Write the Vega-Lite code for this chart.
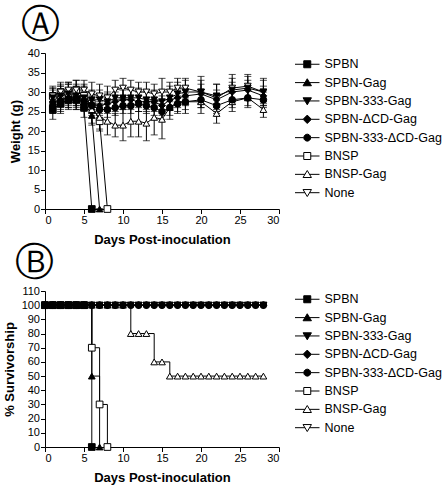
{
  "$schema": "https://vega.github.io/schema/vega-lite/v6.json",
  "background": "white",
  "padding": {"left": 3, "top": 6, "right": 0, "bottom": 0},
  "spacing": -3,
  "config": {
    "view": {"stroke": null},
    "font": "Liberation Sans",
    "axis": {
      "grid": false, "domainColor": "black", "tickColor": "black", "labelColor": "black", "titleColor": "black",
      "labelFont": "Liberation Sans", "labelFontSize": 11, "titleFont": "Liberation Sans", "titleFontSize": 13,
      "titleFontWeight": "bold", "tickSize": 4.5, "labelPadding": 1, "domainWidth": 1, "tickWidth": 1
    },
    "axisX": {"titlePadding": 8},
    "axisY": {"titlePadding": 5},
    "legend": {
      "labelFont": "Liberation Sans", "labelFontSize": 12.5, "labelColor": "black",
      "symbolSize": 49, "symbolStrokeColor": "black", "symbolStrokeWidth": 1, "symbolOpacity": 1,
      "rowPadding": 5.35, "labelOffset": 11, "offset": 14, "padding": 0
    },
    "title": {"anchor": "start", "frame": "bounds", "font": "DejaVu Sans", "fontSize": 39, "fontWeight": "normal", "color": "black", "offset": 2, "dx": 12}
  },
  "datasets": {
    "w": [
      {"s":"BNSP","d":1,"w":29,"e":2.5},{"s":"BNSP","d":2,"w":30,"e":2.5},{"s":"BNSP","d":3,"w":30,"e":2.5},{"s":"BNSP","d":4,"w":30.5,"e":2.5},{"s":"BNSP","d":5,"w":29,"e":3},{"s":"BNSP","d":6,"w":27,"e":3},{"s":"BNSP","d":7,"w":22.5,"e":2},{"s":"BNSP","d":8,"w":0,"e":0},
      {"s":"BNSP-Gag","d":1,"w":28,"e":2.5},{"s":"BNSP-Gag","d":2,"w":29,"e":2.5},{"s":"BNSP-Gag","d":3,"w":29.5,"e":2.5},{"s":"BNSP-Gag","d":4,"w":29.5,"e":2.5},{"s":"BNSP-Gag","d":5,"w":28.5,"e":3},{"s":"BNSP-Gag","d":6,"w":25.5,"e":3.5},{"s":"BNSP-Gag","d":7,"w":23.5,"e":3.5},{"s":"BNSP-Gag","d":8,"w":22.5,"e":3.5},{"s":"BNSP-Gag","d":9,"w":21.5,"e":3},{"s":"BNSP-Gag","d":10,"w":21.5,"e":4},{"s":"BNSP-Gag","d":11,"w":22.5,"e":4},{"s":"BNSP-Gag","d":12,"w":22.5,"e":4},{"s":"BNSP-Gag","d":13,"w":22,"e":4.5},{"s":"BNSP-Gag","d":14,"w":23.5,"e":4.5},{"s":"BNSP-Gag","d":15,"w":23,"e":5},{"s":"BNSP-Gag","d":16,"w":26,"e":3},{"s":"BNSP-Gag","d":17,"w":27.5,"e":3},{"s":"BNSP-Gag","d":18,"w":27.5,"e":3},{"s":"BNSP-Gag","d":20,"w":27.5,"e":3},{"s":"BNSP-Gag","d":22,"w":24.5,"e":2.5},{"s":"BNSP-Gag","d":24,"w":27.5,"e":2.5},{"s":"BNSP-Gag","d":26,"w":28.5,"e":2.5},{"s":"BNSP-Gag","d":28,"w":25.5,"e":2},
      {"s":"None","d":1,"w":29,"e":2},{"s":"None","d":2,"w":30,"e":2},{"s":"None","d":3,"w":30.5,"e":2},{"s":"None","d":4,"w":30.5,"e":2.5},{"s":"None","d":5,"w":30.5,"e":2.5},{"s":"None","d":6,"w":29.5,"e":3},{"s":"None","d":7,"w":29,"e":3},{"s":"None","d":8,"w":28.5,"e":3},{"s":"None","d":9,"w":30.5,"e":2.5},{"s":"None","d":10,"w":31,"e":2.5},{"s":"None","d":11,"w":30.5,"e":2.5},{"s":"None","d":12,"w":30,"e":2.5},{"s":"None","d":13,"w":30,"e":2.5},{"s":"None","d":14,"w":29.5,"e":2.5},{"s":"None","d":15,"w":30,"e":3.5},{"s":"None","d":16,"w":30,"e":2.5},{"s":"None","d":17,"w":31,"e":2.5},{"s":"None","d":18,"w":31,"e":2.5},{"s":"None","d":20,"w":30,"e":4},{"s":"None","d":22,"w":28.5,"e":3.5},{"s":"None","d":24,"w":31,"e":3.5},{"s":"None","d":26,"w":31.5,"e":3},{"s":"None","d":28,"w":30,"e":3.5},
      {"s":"SPBN","d":1,"w":25.5,"e":2.5},{"s":"SPBN","d":2,"w":27,"e":2.5},{"s":"SPBN","d":3,"w":28,"e":2.5},{"s":"SPBN","d":4,"w":28,"e":2.5},{"s":"SPBN","d":5,"w":26,"e":2.5},{"s":"SPBN","d":6,"w":0,"e":0},
      {"s":"SPBN-Gag","d":1,"w":27,"e":2.5},{"s":"SPBN-Gag","d":2,"w":28,"e":2.5},{"s":"SPBN-Gag","d":3,"w":28.5,"e":2.5},{"s":"SPBN-Gag","d":4,"w":28,"e":2.5},{"s":"SPBN-Gag","d":5,"w":27.5,"e":2.5},{"s":"SPBN-Gag","d":6,"w":24,"e":2.5},{"s":"SPBN-Gag","d":7,"w":0,"e":0},
      {"s":"SPBN-333-Gag","d":1,"w":28.5,"e":2.5},{"s":"SPBN-333-Gag","d":2,"w":29,"e":2.5},{"s":"SPBN-333-Gag","d":3,"w":29.5,"e":2.5},{"s":"SPBN-333-Gag","d":4,"w":29,"e":2.5},{"s":"SPBN-333-Gag","d":5,"w":28.5,"e":2.5},{"s":"SPBN-333-Gag","d":6,"w":28,"e":2.5},{"s":"SPBN-333-Gag","d":7,"w":28,"e":2.5},{"s":"SPBN-333-Gag","d":8,"w":27.5,"e":2.5},{"s":"SPBN-333-Gag","d":9,"w":28.5,"e":2.5},{"s":"SPBN-333-Gag","d":10,"w":28.5,"e":2.5},{"s":"SPBN-333-Gag","d":11,"w":28.5,"e":2.5},{"s":"SPBN-333-Gag","d":12,"w":28.5,"e":2.5},{"s":"SPBN-333-Gag","d":13,"w":28,"e":2.5},{"s":"SPBN-333-Gag","d":14,"w":28,"e":2.5},{"s":"SPBN-333-Gag","d":15,"w":27.5,"e":3},{"s":"SPBN-333-Gag","d":16,"w":28.5,"e":3},{"s":"SPBN-333-Gag","d":17,"w":29.5,"e":3},{"s":"SPBN-333-Gag","d":18,"w":30,"e":3},{"s":"SPBN-333-Gag","d":20,"w":30,"e":3},{"s":"SPBN-333-Gag","d":22,"w":29,"e":3},{"s":"SPBN-333-Gag","d":24,"w":30.5,"e":3},{"s":"SPBN-333-Gag","d":26,"w":31,"e":3},{"s":"SPBN-333-Gag","d":28,"w":30,"e":3},
      {"s":"SPBN-ΔCD-Gag","d":1,"w":27.5,"e":2},{"s":"SPBN-ΔCD-Gag","d":2,"w":28,"e":2},{"s":"SPBN-ΔCD-Gag","d":3,"w":28.5,"e":2},{"s":"SPBN-ΔCD-Gag","d":4,"w":28.5,"e":2},{"s":"SPBN-ΔCD-Gag","d":5,"w":28,"e":2},{"s":"SPBN-ΔCD-Gag","d":6,"w":27,"e":2.5},{"s":"SPBN-ΔCD-Gag","d":7,"w":26.5,"e":2.5},{"s":"SPBN-ΔCD-Gag","d":8,"w":27,"e":2.5},{"s":"SPBN-ΔCD-Gag","d":9,"w":27.5,"e":2.5},{"s":"SPBN-ΔCD-Gag","d":10,"w":28,"e":2.5},{"s":"SPBN-ΔCD-Gag","d":11,"w":28,"e":2.5},{"s":"SPBN-ΔCD-Gag","d":12,"w":27.5,"e":2.5},{"s":"SPBN-ΔCD-Gag","d":13,"w":27.5,"e":2.5},{"s":"SPBN-ΔCD-Gag","d":14,"w":27.5,"e":2.5},{"s":"SPBN-ΔCD-Gag","d":15,"w":26.5,"e":2.5},{"s":"SPBN-ΔCD-Gag","d":16,"w":28,"e":2.5},{"s":"SPBN-ΔCD-Gag","d":17,"w":28.5,"e":2.5},{"s":"SPBN-ΔCD-Gag","d":18,"w":29,"e":2.5},{"s":"SPBN-ΔCD-Gag","d":20,"w":29.5,"e":2.5},{"s":"SPBN-ΔCD-Gag","d":22,"w":28,"e":2.5},{"s":"SPBN-ΔCD-Gag","d":24,"w":30,"e":2.5},{"s":"SPBN-ΔCD-Gag","d":26,"w":30.5,"e":2.5},{"s":"SPBN-ΔCD-Gag","d":28,"w":29,"e":2.5},
      {"s":"SPBN-333-ΔCD-Gag","d":1,"w":26.5,"e":2},{"s":"SPBN-333-ΔCD-Gag","d":2,"w":27,"e":2},{"s":"SPBN-333-ΔCD-Gag","d":3,"w":28,"e":2},{"s":"SPBN-333-ΔCD-Gag","d":4,"w":28,"e":2},{"s":"SPBN-333-ΔCD-Gag","d":5,"w":27.5,"e":2},{"s":"SPBN-333-ΔCD-Gag","d":6,"w":26.5,"e":2},{"s":"SPBN-333-ΔCD-Gag","d":7,"w":25.5,"e":2},{"s":"SPBN-333-ΔCD-Gag","d":8,"w":25.5,"e":2},{"s":"SPBN-333-ΔCD-Gag","d":9,"w":26,"e":2},{"s":"SPBN-333-ΔCD-Gag","d":10,"w":26.5,"e":2},{"s":"SPBN-333-ΔCD-Gag","d":11,"w":26.5,"e":2},{"s":"SPBN-333-ΔCD-Gag","d":12,"w":27,"e":2},{"s":"SPBN-333-ΔCD-Gag","d":13,"w":26.5,"e":2},{"s":"SPBN-333-ΔCD-Gag","d":14,"w":26,"e":2},{"s":"SPBN-333-ΔCD-Gag","d":15,"w":25,"e":2},{"s":"SPBN-333-ΔCD-Gag","d":16,"w":26,"e":2},{"s":"SPBN-333-ΔCD-Gag","d":17,"w":27,"e":2},{"s":"SPBN-333-ΔCD-Gag","d":18,"w":27.5,"e":2},{"s":"SPBN-333-ΔCD-Gag","d":20,"w":28,"e":2},{"s":"SPBN-333-ΔCD-Gag","d":22,"w":26.5,"e":2},{"s":"SPBN-333-ΔCD-Gag","d":24,"w":28,"e":2},{"s":"SPBN-333-ΔCD-Gag","d":26,"w":28.5,"e":2},{"s":"SPBN-333-ΔCD-Gag","d":28,"w":28,"e":2}
    ],
    "v": [
      {"s":"BNSP","d":0,"p":100},{"s":"BNSP","d":1,"p":100},{"s":"BNSP","d":2,"p":100},{"s":"BNSP","d":3,"p":100},{"s":"BNSP","d":4,"p":100},{"s":"BNSP","d":5,"p":100},{"s":"BNSP","d":6,"p":70},{"s":"BNSP","d":7,"p":30},{"s":"BNSP","d":8,"p":0},
      {"s":"BNSP-Gag","d":0,"p":100},{"s":"BNSP-Gag","d":1,"p":100},{"s":"BNSP-Gag","d":2,"p":100},{"s":"BNSP-Gag","d":3,"p":100},{"s":"BNSP-Gag","d":4,"p":100},{"s":"BNSP-Gag","d":5,"p":100},{"s":"BNSP-Gag","d":6,"p":100},{"s":"BNSP-Gag","d":7,"p":100},{"s":"BNSP-Gag","d":8,"p":100},{"s":"BNSP-Gag","d":9,"p":100},{"s":"BNSP-Gag","d":10,"p":100},{"s":"BNSP-Gag","d":11,"p":80},{"s":"BNSP-Gag","d":12,"p":80},{"s":"BNSP-Gag","d":13,"p":80},{"s":"BNSP-Gag","d":14,"p":60},{"s":"BNSP-Gag","d":15,"p":60},{"s":"BNSP-Gag","d":16,"p":50},{"s":"BNSP-Gag","d":17,"p":50},{"s":"BNSP-Gag","d":18,"p":50},{"s":"BNSP-Gag","d":19,"p":50},{"s":"BNSP-Gag","d":20,"p":50},{"s":"BNSP-Gag","d":21,"p":50},{"s":"BNSP-Gag","d":22,"p":50},{"s":"BNSP-Gag","d":23,"p":50},{"s":"BNSP-Gag","d":24,"p":50},{"s":"BNSP-Gag","d":25,"p":50},{"s":"BNSP-Gag","d":26,"p":50},{"s":"BNSP-Gag","d":27,"p":50},{"s":"BNSP-Gag","d":28,"p":50},
      {"s":"None","d":0,"p":100},{"s":"None","d":1,"p":100},{"s":"None","d":2,"p":100},{"s":"None","d":3,"p":100},{"s":"None","d":4,"p":100},{"s":"None","d":5,"p":100},{"s":"None","d":6,"p":100},{"s":"None","d":7,"p":100},{"s":"None","d":8,"p":100},{"s":"None","d":9,"p":100},{"s":"None","d":10,"p":100},{"s":"None","d":11,"p":100},{"s":"None","d":12,"p":100},{"s":"None","d":13,"p":100},{"s":"None","d":14,"p":100},{"s":"None","d":15,"p":100},{"s":"None","d":16,"p":100},{"s":"None","d":17,"p":100},{"s":"None","d":18,"p":100},{"s":"None","d":19,"p":100},{"s":"None","d":20,"p":100},{"s":"None","d":21,"p":100},{"s":"None","d":22,"p":100},{"s":"None","d":23,"p":100},{"s":"None","d":24,"p":100},{"s":"None","d":25,"p":100},{"s":"None","d":26,"p":100},{"s":"None","d":27,"p":100},{"s":"None","d":28,"p":100},
      {"s":"SPBN","d":0,"p":100},{"s":"SPBN","d":1,"p":100},{"s":"SPBN","d":2,"p":100},{"s":"SPBN","d":3,"p":100},{"s":"SPBN","d":4,"p":100},{"s":"SPBN","d":5,"p":100},{"s":"SPBN","d":6,"p":0},
      {"s":"SPBN-Gag","d":0,"p":100},{"s":"SPBN-Gag","d":1,"p":100},{"s":"SPBN-Gag","d":2,"p":100},{"s":"SPBN-Gag","d":3,"p":100},{"s":"SPBN-Gag","d":4,"p":100},{"s":"SPBN-Gag","d":5,"p":100},{"s":"SPBN-Gag","d":6,"p":50},{"s":"SPBN-Gag","d":7,"p":0},
      {"s":"SPBN-333-Gag","d":0,"p":100},{"s":"SPBN-333-Gag","d":1,"p":100},{"s":"SPBN-333-Gag","d":2,"p":100},{"s":"SPBN-333-Gag","d":3,"p":100},{"s":"SPBN-333-Gag","d":4,"p":100},{"s":"SPBN-333-Gag","d":5,"p":100},{"s":"SPBN-333-Gag","d":6,"p":100},{"s":"SPBN-333-Gag","d":7,"p":100},{"s":"SPBN-333-Gag","d":8,"p":100},{"s":"SPBN-333-Gag","d":9,"p":100},{"s":"SPBN-333-Gag","d":10,"p":100},{"s":"SPBN-333-Gag","d":11,"p":100},{"s":"SPBN-333-Gag","d":12,"p":100},{"s":"SPBN-333-Gag","d":13,"p":100},{"s":"SPBN-333-Gag","d":14,"p":100},{"s":"SPBN-333-Gag","d":15,"p":100},{"s":"SPBN-333-Gag","d":16,"p":100},{"s":"SPBN-333-Gag","d":17,"p":100},{"s":"SPBN-333-Gag","d":18,"p":100},{"s":"SPBN-333-Gag","d":19,"p":100},{"s":"SPBN-333-Gag","d":20,"p":100},{"s":"SPBN-333-Gag","d":21,"p":100},{"s":"SPBN-333-Gag","d":22,"p":100},{"s":"SPBN-333-Gag","d":23,"p":100},{"s":"SPBN-333-Gag","d":24,"p":100},{"s":"SPBN-333-Gag","d":25,"p":100},{"s":"SPBN-333-Gag","d":26,"p":100},{"s":"SPBN-333-Gag","d":27,"p":100},{"s":"SPBN-333-Gag","d":28,"p":100},
      {"s":"SPBN-ΔCD-Gag","d":0,"p":100},{"s":"SPBN-ΔCD-Gag","d":1,"p":100},{"s":"SPBN-ΔCD-Gag","d":2,"p":100},{"s":"SPBN-ΔCD-Gag","d":3,"p":100},{"s":"SPBN-ΔCD-Gag","d":4,"p":100},{"s":"SPBN-ΔCD-Gag","d":5,"p":100},{"s":"SPBN-ΔCD-Gag","d":6,"p":100},{"s":"SPBN-ΔCD-Gag","d":7,"p":100},{"s":"SPBN-ΔCD-Gag","d":8,"p":100},{"s":"SPBN-ΔCD-Gag","d":9,"p":100},{"s":"SPBN-ΔCD-Gag","d":10,"p":100},{"s":"SPBN-ΔCD-Gag","d":11,"p":100},{"s":"SPBN-ΔCD-Gag","d":12,"p":100},{"s":"SPBN-ΔCD-Gag","d":13,"p":100},{"s":"SPBN-ΔCD-Gag","d":14,"p":100},{"s":"SPBN-ΔCD-Gag","d":15,"p":100},{"s":"SPBN-ΔCD-Gag","d":16,"p":100},{"s":"SPBN-ΔCD-Gag","d":17,"p":100},{"s":"SPBN-ΔCD-Gag","d":18,"p":100},{"s":"SPBN-ΔCD-Gag","d":19,"p":100},{"s":"SPBN-ΔCD-Gag","d":20,"p":100},{"s":"SPBN-ΔCD-Gag","d":21,"p":100},{"s":"SPBN-ΔCD-Gag","d":22,"p":100},{"s":"SPBN-ΔCD-Gag","d":23,"p":100},{"s":"SPBN-ΔCD-Gag","d":24,"p":100},{"s":"SPBN-ΔCD-Gag","d":25,"p":100},{"s":"SPBN-ΔCD-Gag","d":26,"p":100},{"s":"SPBN-ΔCD-Gag","d":27,"p":100},{"s":"SPBN-ΔCD-Gag","d":28,"p":100},
      {"s":"SPBN-333-ΔCD-Gag","d":0,"p":100},{"s":"SPBN-333-ΔCD-Gag","d":1,"p":100},{"s":"SPBN-333-ΔCD-Gag","d":2,"p":100},{"s":"SPBN-333-ΔCD-Gag","d":3,"p":100},{"s":"SPBN-333-ΔCD-Gag","d":4,"p":100},{"s":"SPBN-333-ΔCD-Gag","d":5,"p":100},{"s":"SPBN-333-ΔCD-Gag","d":6,"p":100},{"s":"SPBN-333-ΔCD-Gag","d":7,"p":100},{"s":"SPBN-333-ΔCD-Gag","d":8,"p":100},{"s":"SPBN-333-ΔCD-Gag","d":9,"p":100},{"s":"SPBN-333-ΔCD-Gag","d":10,"p":100},{"s":"SPBN-333-ΔCD-Gag","d":11,"p":100},{"s":"SPBN-333-ΔCD-Gag","d":12,"p":100},{"s":"SPBN-333-ΔCD-Gag","d":13,"p":100},{"s":"SPBN-333-ΔCD-Gag","d":14,"p":100},{"s":"SPBN-333-ΔCD-Gag","d":15,"p":100},{"s":"SPBN-333-ΔCD-Gag","d":16,"p":100},{"s":"SPBN-333-ΔCD-Gag","d":17,"p":100},{"s":"SPBN-333-ΔCD-Gag","d":18,"p":100},{"s":"SPBN-333-ΔCD-Gag","d":19,"p":100},{"s":"SPBN-333-ΔCD-Gag","d":20,"p":100},{"s":"SPBN-333-ΔCD-Gag","d":21,"p":100},{"s":"SPBN-333-ΔCD-Gag","d":22,"p":100},{"s":"SPBN-333-ΔCD-Gag","d":23,"p":100},{"s":"SPBN-333-ΔCD-Gag","d":24,"p":100},{"s":"SPBN-333-ΔCD-Gag","d":25,"p":100},{"s":"SPBN-333-ΔCD-Gag","d":26,"p":100},{"s":"SPBN-333-ΔCD-Gag","d":27,"p":100},{"s":"SPBN-333-ΔCD-Gag","d":28,"p":100}
    ]
  },
  "vconcat": [
    {
      "title": {"text": "Ⓐ"},
      "width": 234,
      "height": 156,
      "data": {"name": "w"},
      "encoding": {
        "x": {"field": "d", "type": "quantitative", "scale": {"domain": [0, 30], "nice": false}, "axis": {"values": [0, 5, 10, 15, 20, 25, 30], "title": "Days Post-inoculation"}},
        "y": {"field": "w", "type": "quantitative", "scale": {"domain": [0, 40], "nice": false}, "axis": {"values": [0, 5, 10, 15, 20, 25, 30, 35, 40], "title": "Weight (g)"}}
      },
      "layer": [
        {"mark": {"type": "errorbar", "ticks": {"size": 7, "color": "black", "thickness": 1}, "rule": {"color": "black", "strokeWidth": 1}}, "encoding": {"yError": {"field": "e"}}},
        {"mark": {"type": "line", "color": "black", "strokeWidth": 1}, "encoding": {"detail": {"field": "s"}}},
        {"mark": {"type": "point", "filled": true, "size": 45, "stroke": "black", "strokeWidth": 1, "opacity": 1},
         "encoding": {
           "shape": {"field": "s", "scale": {"domain": ["SPBN","SPBN-Gag","SPBN-333-Gag","SPBN-ΔCD-Gag","SPBN-333-ΔCD-Gag","BNSP","BNSP-Gag","None"], "range": ["square","triangle-up","triangle-down","diamond","circle","square","triangle-up","triangle-down"]}, "legend": null},
           "fill": {"field": "s", "scale": {"domain": ["SPBN","SPBN-Gag","SPBN-333-Gag","SPBN-ΔCD-Gag","SPBN-333-ΔCD-Gag","BNSP","BNSP-Gag","None"], "range": ["black","black","black","black","black","white","white","white"]}, "legend": null}
         }},
        {"mark": {"type": "point", "filled": true, "size": 49, "stroke": "black", "strokeWidth": 1, "opacity": 0},
         "encoding": {
           "shape": {"field": "s", "scale": {"domain": ["SPBN","SPBN-Gag","SPBN-333-Gag","SPBN-ΔCD-Gag","SPBN-333-ΔCD-Gag","BNSP","BNSP-Gag","None"], "range": [
             "M-3.5,0H-1M1,0H3.5M-1,-1H1V1H-1Z",
             "M-3.5,0H-0.66M0.66,0H3.5M-1.2,0.9L0,-1.1L1.2,0.9Z",
             "M-3.5,0H-0.66M0.66,0H3.5M-1.2,-0.9L0,1.1L1.2,-0.9Z",
             "M-3.5,0H-1.2M1.2,0H3.5M-1.2,0L0,-1.2L1.2,0L0,1.2Z",
             "M-3.5,0H-1M1,0H3.5M1,0L0.866,0.5L0.5,0.866L0,1L-0.5,0.866L-0.866,0.5L-1,0L-0.866,-0.5L-0.5,-0.866L0,-1L0.5,-0.866L0.866,-0.5Z",
             "M-3.5,0H-1M1,0H3.5M-1,-1H1V1H-1Z",
             "M-3.5,0H-0.66M0.66,0H3.5M-1.2,0.9L0,-1.1L1.2,0.9Z",
             "M-3.5,0H-0.66M0.66,0H3.5M-1.2,-0.9L0,1.1L1.2,-0.9Z"]},
             "legend": {"title": null, "padding": 5, "offset": 17, "symbolOpacity": 1, "symbolStrokeColor": "black", "symbolStrokeWidth": 1, "encode": {"symbols": {"update": {"stroke": {"value": "black"}, "strokeWidth": {"value": 1}, "opacity": {"value": 1}}}}}},
           "fill": {"field": "s", "scale": {"domain": ["SPBN","SPBN-Gag","SPBN-333-Gag","SPBN-ΔCD-Gag","SPBN-333-ΔCD-Gag","BNSP","BNSP-Gag","None"], "range": ["black","black","black","black","black","white","white","white"]},
             "legend": {"title": null, "padding": 5, "offset": 17, "symbolOpacity": 1, "symbolStrokeColor": "black", "symbolStrokeWidth": 1, "encode": {"symbols": {"update": {"stroke": {"value": "black"}, "strokeWidth": {"value": 1}, "opacity": {"value": 1}}}}}}
         }}
      ],
      "resolve": {"scale": {"shape": "independent", "fill": "independent"}}
    },
    {
      "title": {"text": "Ⓑ"},
      "width": 234,
      "height": 156,
      "data": {"name": "v"},
      "encoding": {
        "x": {"field": "d", "type": "quantitative", "scale": {"domain": [0, 30], "nice": false}, "axis": {"values": [0, 5, 10, 15, 20, 25, 30], "title": "Days Post-inoculation"}},
        "y": {"field": "p", "type": "quantitative", "scale": {"domain": [0, 110], "nice": false}, "axis": {"values": [0, 10, 20, 30, 40, 50, 60, 70, 80, 90, 100, 110], "title": "% Survivorship"}}
      },
      "layer": [
        {"mark": {"type": "line", "color": "black", "strokeWidth": 1, "interpolate": "step-after"}, "encoding": {"detail": {"field": "s"}}},
        {"mark": {"type": "point", "filled": true, "size": 45, "stroke": "black", "strokeWidth": 1, "opacity": 1},
         "encoding": {
           "shape": {"field": "s", "scale": {"domain": ["SPBN","SPBN-Gag","SPBN-333-Gag","SPBN-ΔCD-Gag","SPBN-333-ΔCD-Gag","BNSP","BNSP-Gag","None"], "range": ["square","triangle-up","triangle-down","diamond","circle","square","triangle-up","triangle-down"]}, "legend": null},
           "fill": {"field": "s", "scale": {"domain": ["SPBN","SPBN-Gag","SPBN-333-Gag","SPBN-ΔCD-Gag","SPBN-333-ΔCD-Gag","BNSP","BNSP-Gag","None"], "range": ["black","black","black","black","black","white","white","white"]}, "legend": null}
         }},
        {"mark": {"type": "point", "filled": true, "size": 49, "stroke": "black", "strokeWidth": 1, "opacity": 0},
         "encoding": {
           "shape": {"field": "s", "scale": {"domain": ["SPBN","SPBN-Gag","SPBN-333-Gag","SPBN-ΔCD-Gag","SPBN-333-ΔCD-Gag","BNSP","BNSP-Gag","None"], "range": [
             "M-3.5,0H-1M1,0H3.5M-1,-1H1V1H-1Z",
             "M-3.5,0H-0.66M0.66,0H3.5M-1.2,0.9L0,-1.1L1.2,0.9Z",
             "M-3.5,0H-0.66M0.66,0H3.5M-1.2,-0.9L0,1.1L1.2,-0.9Z",
             "M-3.5,0H-1.2M1.2,0H3.5M-1.2,0L0,-1.2L1.2,0L0,1.2Z",
             "M-3.5,0H-1M1,0H3.5M1,0L0.866,0.5L0.5,0.866L0,1L-0.5,0.866L-0.866,0.5L-1,0L-0.866,-0.5L-0.5,-0.866L0,-1L0.5,-0.866L0.866,-0.5Z",
             "M-3.5,0H-1M1,0H3.5M-1,-1H1V1H-1Z",
             "M-3.5,0H-0.66M0.66,0H3.5M-1.2,0.9L0,-1.1L1.2,0.9Z",
             "M-3.5,0H-0.66M0.66,0H3.5M-1.2,-0.9L0,1.1L1.2,-0.9Z"]},
             "legend": {"title": null, "padding": 2, "offset": 20, "symbolOpacity": 1, "symbolStrokeColor": "black", "symbolStrokeWidth": 1, "encode": {"symbols": {"update": {"stroke": {"value": "black"}, "strokeWidth": {"value": 1}, "opacity": {"value": 1}}}}}},
           "fill": {"field": "s", "scale": {"domain": ["SPBN","SPBN-Gag","SPBN-333-Gag","SPBN-ΔCD-Gag","SPBN-333-ΔCD-Gag","BNSP","BNSP-Gag","None"], "range": ["black","black","black","black","black","white","white","white"]},
             "legend": {"title": null, "padding": 2, "offset": 20, "symbolOpacity": 1, "symbolStrokeColor": "black", "symbolStrokeWidth": 1, "encode": {"symbols": {"update": {"stroke": {"value": "black"}, "strokeWidth": {"value": 1}, "opacity": {"value": 1}}}}}}
         }}
      ],
      "resolve": {"scale": {"shape": "independent", "fill": "independent"}}
    }
  ]
}
